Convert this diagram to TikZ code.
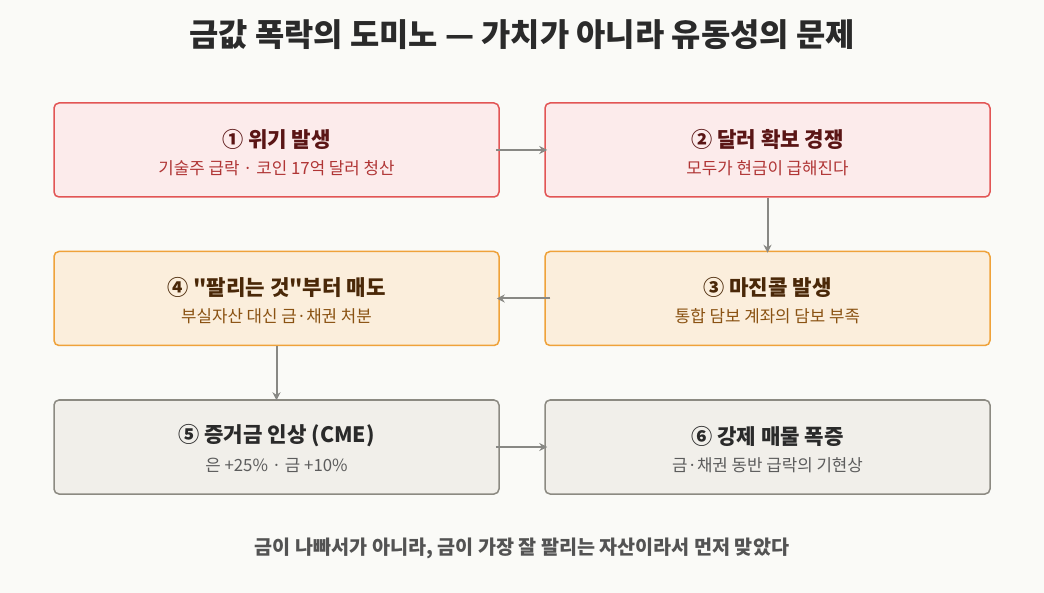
\documentclass[tikz,border=0pt]{standalone}
\usepackage{fontspec}
\setmainfont{Noto Sans CJK KR}[Ligatures=TeXOff]
\usetikzlibrary{arrows.meta}
\definecolor{bg}{HTML}{FAFAF7}
\definecolor{redfill}{HTML}{FCEBEB}
\definecolor{redline}{HTML}{E25555}
\definecolor{redtitle}{HTML}{5A1515}
\definecolor{redsub}{HTML}{B03535}
\definecolor{orfill}{HTML}{FBEEDC}
\definecolor{orline}{HTML}{EFA23A}
\definecolor{ortitle}{HTML}{4A2808}
\definecolor{orsub}{HTML}{8A5212}
\definecolor{gyfill}{HTML}{F1EFEA}
\definecolor{gyline}{HTML}{8C8A82}
\definecolor{gytitle}{HTML}{2A2A2A}
\definecolor{gysub}{HTML}{5C5C5C}
\definecolor{arr}{HTML}{888884}
\tikzset{
  card/.style={draw, line width=1.5pt, rounded corners=5pt, minimum width=445pt, minimum height=94pt, inner sep=0pt},
  redcard/.style={card, fill=redfill, draw=redline},
  orcard/.style={card, fill=orfill, draw=orline},
  gycard/.style={card, fill=gyfill, draw=gyline},
  ttl/.style={font=\fontsize{21.2}{25}\selectfont\bfseries, anchor=center},
  sub/.style={font=\fontsize{16.8}{20}\selectfont, anchor=center},
  flow/.style={draw=arr, line width=2pt, -{Stealth[length=8pt,width=8pt]}}
}
\begin{document}
\begin{tikzpicture}[x=1pt,y=-1pt]
\fill[bg] (0,0) rectangle (1044,593);
\useasboundingbox (0,0) rectangle (1044,593);
\node[font=\fontsize{31.8}{36}\selectfont\bfseries, text=gytitle] (title) at (522,35) {금값 폭락의 도미노 — 가치가 아니라 유동성의 문제};

\node[redcard] (b1) at (276.5,150) {};
\node[redcard] (b2) at (767.5,150) {};
\node[orcard] (b4) at (276.5,298.5) {};
\node[orcard] (b3) at (767.5,298.5) {};
\node[gycard] (b5) at (276.5,447) {};
\node[gycard] (b6) at (767.5,447) {};

\node[ttl, text=redtitle] (t1) at (276.5,139) {① 위기 발생};
\node[sub, text=redsub] (s1) at (276.5,168) {기술주 급락 · 코인 17억 달러 청산};
\node[ttl, text=redtitle] (t2) at (767.5,139) {② 달러 확보 경쟁};
\node[sub, text=redsub] (s2) at (767.5,168) {모두가 현금이 급해진다};
\node[ttl, text=ortitle] (t3) at (767.5,287.5) {③ 마진콜 발생};
\node[sub, text=orsub] (s3) at (767.5,316.5) {통합 담보 계좌의 담보 부족};
\node[ttl, text=ortitle] (t4) at (276.5,287.5) {④ "팔리는 것"부터 매도};
\node[sub, text=orsub] (s4) at (276.5,316.5) {부실자산 대신 금·채권 처분};
\node[ttl, text=gytitle] (t5) at (276.5,436) {⑤ 증거금 인상 (CME)};
\node[sub, text=gysub] (s5) at (276.5,465) {은 +25\% · 금 +10\%};
\node[ttl, text=gytitle] (t6) at (767.5,436) {⑥ 강제 매물 폭증};
\node[sub, text=gysub] (s6) at (767.5,465) {금·채권 동반 급락의 기현상};

\draw[flow] ([xshift=-4pt]b1.east) -- ([xshift=3pt]b2.west);
\draw[flow] (b2.south) -- ([yshift=-2pt]b3.north);
\draw[flow] ([xshift=6pt]b3.west) -- ([xshift=-3pt]b4.east);
\draw[flow] (b4.south) -- ([yshift=-1pt]b5.north);
\draw[flow] ([xshift=-4pt]b5.east) -- ([xshift=3pt]b6.west);

\node[font=\fontsize{19.6}{23}\selectfont\bfseries, text=gysub!90!black] (foot) at (522,548) {금이 나빠서가 아니라, 금이 가장 잘 팔리는 자산이라서 먼저 맞았다};
\end{tikzpicture}
\end{document}
